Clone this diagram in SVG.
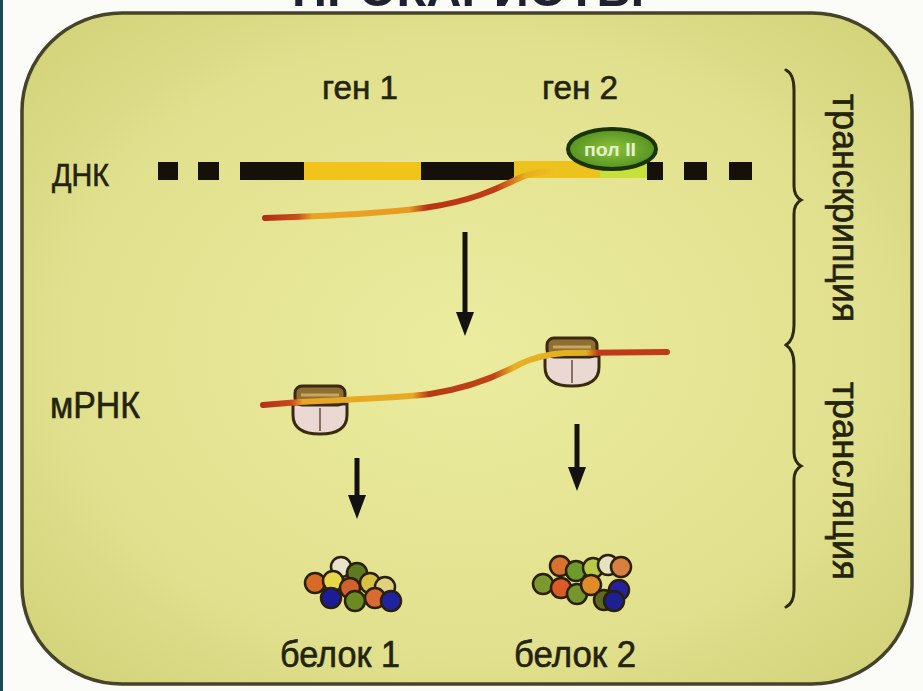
<svg xmlns="http://www.w3.org/2000/svg" width="923" height="691" viewBox="0 0 923 691">
  <defs>
    <style>
      .lbl { font-family: "Liberation Sans", "DejaVu Sans", sans-serif; fill: #24230e; stroke: #24230e; stroke-width: 0.6; }
      .dna-blk { fill: #151008; }
      .conn { stroke: #121212; stroke-width: 5; fill: none; }
      .brace { stroke: #2d2b12; stroke-width: 3; fill: none; stroke-linecap: round; }
    </style>
    <radialGradient id="cellFill" cx="0.5" cy="0.5" r="0.65">
      <stop offset="0" stop-color="#ecec9f"/>
      <stop offset="0.7" stop-color="#e0e08e"/>
      <stop offset="1" stop-color="#d4d47c"/>
    </radialGradient>
    <linearGradient id="mrnaStroke" gradientUnits="userSpaceOnUse" x1="263" y1="0" x2="667" y2="0">
      <stop offset="0" stop-color="#b8301a"/>
      <stop offset="0.07" stop-color="#c8481a"/>
      <stop offset="0.1" stop-color="#e8a624"/>
      <stop offset="0.37" stop-color="#e8aa22"/>
      <stop offset="0.41" stop-color="#b83a16"/>
      <stop offset="0.57" stop-color="#c04216"/>
      <stop offset="0.62" stop-color="#e8b024"/>
      <stop offset="0.8" stop-color="#e0b020"/>
      <stop offset="0.83" stop-color="#c03a18"/>
      <stop offset="1" stop-color="#c03a18"/>
    </linearGradient>
    <linearGradient id="txStroke" gradientUnits="userSpaceOnUse" x1="263" y1="0" x2="555" y2="0">
      <stop offset="0" stop-color="#b02c14"/>
      <stop offset="0.12" stop-color="#c8501a"/>
      <stop offset="0.17" stop-color="#eaa424"/>
      <stop offset="0.5" stop-color="#e89c22"/>
      <stop offset="0.56" stop-color="#b83414"/>
      <stop offset="0.8" stop-color="#c03c16"/>
      <stop offset="0.9" stop-color="#e8b020"/>
      <stop offset="1" stop-color="#eec020"/>
    </linearGradient>
    <radialGradient id="polFill" cx="0.5" cy="0.5" r="0.6">
      <stop offset="0" stop-color="#8cc23e"/>
      <stop offset="1" stop-color="#4c8a1a"/>
    </radialGradient>
    <marker id="head" markerWidth="24" markerHeight="18" refX="2" refY="9" orient="auto" markerUnits="userSpaceOnUse" viewBox="0 0 24 18">
      <path d="M0 0 L24 9 L0 18 Z" fill="#121212"/>
    </marker>
    <!-- ribosome: small subunit on top, large subunit below; origin on the mRNA -->
    <g id="ribosome">
      <path d="M-27 1 L27 1 L27 12 Q27 31 0 31 Q-27 31 -27 12 Z" fill="#ead9d2" stroke="#3a2a10" stroke-width="3"/>
      <line x1="0" y1="5" x2="0" y2="28" stroke="#8a7062" stroke-width="2"/>
      <rect x="-25" y="-17" width="50" height="19" rx="7" fill="#8e6e32" stroke="#3a2a10" stroke-width="3"/>
      <line x1="-19" y1="-8" x2="19" y2="-8" stroke="#c6a660" stroke-width="3"/>
    </g>
  </defs>

  <!-- page -->
  <rect x="0" y="0" width="923" height="691" fill="#fbfbf8"/>
  <rect x="0" y="0" width="3" height="691" fill="#1c4b58"/>
  <text x="468" y="6" text-anchor="middle" font-family="Liberation Sans, DejaVu Sans, sans-serif" font-size="48" font-weight="bold" fill="#1e2230" textLength="352" lengthAdjust="spacingAndGlyphs">ПРОКАРИОТЫ</text>

  <!-- cell outline -->
  <g id="cell">
    <rect x="22" y="13" width="890" height="671" rx="100" ry="98" fill="url(#cellFill)" stroke="#45432a" stroke-width="3.5"/>
  </g>

  <!-- row labels -->
  <g id="gene1"><text class="lbl" x="360" y="99" text-anchor="middle" font-size="34" textLength="76" lengthAdjust="spacingAndGlyphs">ген 1</text></g>
  <g id="gene2"><text class="lbl" x="580" y="99" text-anchor="middle" font-size="34" textLength="76" lengthAdjust="spacingAndGlyphs">ген 2</text></g>
  <g id="dna-label"><text class="lbl" x="52" y="186" font-size="32" textLength="57" lengthAdjust="spacingAndGlyphs">ДНК</text></g>
  <g id="mrna-label"><text class="lbl" x="50" y="418" font-size="36" textLength="90" lengthAdjust="spacingAndGlyphs">мРНК</text></g>

  <!-- DNA strand -->
  <g id="dna">
    <rect class="dna-blk" x="158" y="162" width="20" height="18"/>
    <rect class="dna-blk" x="198" y="162" width="21" height="18"/>
    <rect class="dna-blk" x="240" y="162" width="64" height="18"/>
    <rect x="304" y="162" width="117" height="18" fill="#f0c418"/>
    <rect class="dna-blk" x="421" y="162" width="93" height="18"/>
    <rect x="514" y="161" width="134" height="17" fill="#ecc21c"/>
    <rect x="600" y="164" width="48" height="14" fill="#c8e03c"/>
    <rect class="dna-blk" x="647" y="162" width="16" height="18"/>
    <rect class="dna-blk" x="684" y="162" width="23" height="18"/>
    <rect class="dna-blk" x="729" y="162" width="23" height="18"/>
  </g>

  <!-- transcript leaving the DNA -->
  <g id="transcript">
    <path d="M265 218 C330 216 390 213 430 207 C470 201 495 190 515 180 C525 175 535 172 552 171" fill="none" stroke="url(#txStroke)" stroke-width="6" stroke-linecap="round"/>
  </g>

  <!-- RNA polymerase -->
  <g id="pol2">
    <ellipse cx="612" cy="149" rx="44" ry="20" fill="url(#polFill)" stroke="#19340a" stroke-width="4"/>
    <text x="610" y="156" text-anchor="middle" font-family="Liberation Sans, DejaVu Sans, sans-serif" font-size="19" font-weight="bold" fill="#e4f2c6" textLength="52" lengthAdjust="spacingAndGlyphs">пол II</text>
  </g>

  <!-- mRNA with ribosomes -->
  <g id="mrna">
    <use href="#ribosome" x="320" y="403"/>
    <use href="#ribosome" x="572" y="355"/>
    <path d="M263 405 L300 402 C360 399 400 398 430 394 C470 388 500 375 520 364 C535 357 548 354 565 353 L667 352" fill="none" stroke="url(#mrnaStroke)" stroke-width="6" stroke-linecap="round"/>
  </g>

  <!-- protein 1 -->
  <g id="protein1" stroke="#2a2008" stroke-width="2.5">
    <circle cx="341" cy="567" r="10" fill="#e8e4cc"/>
    <circle cx="357" cy="573" r="10" fill="#5c7a22"/>
    <circle cx="315" cy="583" r="10" fill="#d86a28"/>
    <circle cx="333" cy="581" r="10" fill="#e8d848"/>
    <circle cx="350" cy="588" r="10" fill="#d0602c"/>
    <circle cx="370" cy="583" r="10" fill="#d8c040"/>
    <circle cx="385" cy="587" r="10" fill="#e0d080"/>
    <circle cx="331" cy="598" r="10" fill="#1c1c98"/>
    <circle cx="355" cy="601" r="10" fill="#6a8a22"/>
    <circle cx="375" cy="598" r="10" fill="#d86a34"/>
    <circle cx="391" cy="601" r="10" fill="#1e24a0"/>
  </g>

  <!-- protein 2 -->
  <g id="protein2" stroke="#2a2008" stroke-width="2.5">
    <circle cx="560" cy="566" r="10" fill="#d87030"/>
    <circle cx="576" cy="571" r="10" fill="#6c9a2c"/>
    <circle cx="593" cy="568" r="10" fill="#b8c848"/>
    <circle cx="608" cy="565" r="10" fill="#e6e2c0"/>
    <circle cx="621" cy="567" r="10" fill="#d88040"/>
    <circle cx="543" cy="584" r="10" fill="#7a9a30"/>
    <circle cx="561" cy="588" r="10" fill="#dc5a28"/>
    <circle cx="577" cy="594" r="10" fill="#74962c"/>
    <circle cx="591" cy="585" r="10" fill="#e08c28"/>
    <circle cx="604" cy="600" r="10" fill="#5e6a24"/>
    <circle cx="619" cy="590" r="10" fill="#2420a0"/>
    <circle cx="614" cy="601" r="10" fill="#1c2090"/>
  </g>

  <g id="protein-labels">
    <text class="lbl" x="340" y="667" text-anchor="middle" font-size="36" textLength="120" lengthAdjust="spacingAndGlyphs">белок 1</text>
    <text class="lbl" x="575" y="667" text-anchor="middle" font-size="36" textLength="122" lengthAdjust="spacingAndGlyphs">белок 2</text>
  </g>

  <!-- arrows between stages -->
  <g id="connectors">
    <line class="conn" x1="465" y1="232" x2="465" y2="314" marker-end="url(#head)"/>
    <line class="conn" x1="357" y1="458" x2="357" y2="497" marker-end="url(#head)"/>
    <line class="conn" x1="577" y1="424" x2="577" y2="469" marker-end="url(#head)"/>
  </g>

  <!-- stage braces and labels -->
  <g id="stages">
    <path class="brace" d="M786 70 Q794 74 794 90 L794 186 Q794 196 801 200 Q794 204 794 214 L794 325 Q794 340 786 345"/>
    <path class="brace" d="M786 345 Q794 350 794 365 L794 452 Q794 462 801 466 Q794 470 794 480 L794 590 Q794 603 786 607"/>
    <text class="lbl" transform="translate(833,94) rotate(90)" font-size="36" textLength="228" lengthAdjust="spacingAndGlyphs">транскрипция</text>
    <text class="lbl" transform="translate(833,382) rotate(90)" font-size="36" textLength="198" lengthAdjust="spacingAndGlyphs">трансляция</text>
  </g>
</svg>
